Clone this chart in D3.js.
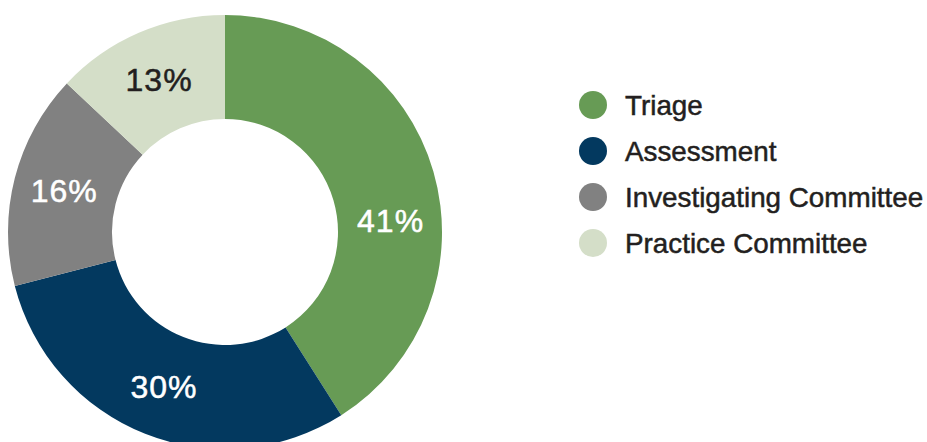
<!DOCTYPE html>
<html>
<head>
<meta charset="utf-8">
<script src="https://cdn.jsdelivr.net/npm/d3@7"></script>
<style>
  body { margin: 0; background: #fff; }
  text { font-family: "Liberation Sans", Arial, sans-serif; }
</style>
</head>
<body>
<svg id="chart" width="927" height="442"></svg>
<script>
// chart data
const categories = ["Triage", "Assessment", "Investigating Committee", "Practice Committee"];
const shares = [41, 30, 16, 13];
const colours = ["#679b55", "#03395f", "#818181", "#d4dec8"];
const labelColours = ["#ffffff", "#ffffff", "#ffffff", "#231f20"];

const svg = d3.select("#chart");
const cx = 225, cy = 232;
const outerR = 217, innerR = 113;

const pie = d3.pie().sort(null).value(d => d.value);
const arcs = pie(categories.map((c, i) => ({ name: c, value: shares[i], i: i })));

const arc = d3.arc().innerRadius(innerR).outerRadius(outerR);
// labels sit in the middle of the ring
const labelArc = d3.arc().innerRadius(166).outerRadius(166);

const g = svg.append("g").attr("transform", "translate(" + cx + "," + cy + ")");

g.selectAll("path")
  .data(arcs)
  .enter()
  .append("path")
  .attr("d", arc)
  .attr("fill", d => colours[d.data.i]);

g.selectAll("text")
  .data(arcs)
  .enter()
  .append("text")
  .attr("transform", function(d) {
    let a = d;
    // first slice label is pushed down to the right-hand side
    if (d.index === 0) a = { startAngle: Math.PI / 2 - 0.07, endAngle: Math.PI / 2 - 0.07 };
    let p = labelArc.centroid(a);
    return "translate(" + p[0] + "," + p[1] + ")";
  })
  .attr("text-anchor", "middle")
  .attr("dy", "0.36em")
  .style("font-size", "32px")
  .style("letter-spacing", "1px")
  .style("fill", d => labelColours[d.data.i])
  .style("stroke", d => labelColours[d.data.i])
  .style("stroke-width", 0.5)
  .text(d => d.data.value + "%");

// legend
const legend = svg.append("g").attr("transform", "translate(593,105)");
const rowY = d3.scaleBand().domain(categories).range([0, 184]);

const rows = legend.selectAll("g")
  .data(categories)
  .enter()
  .append("g")
  .attr("transform", d => "translate(0," + rowY(d) + ")");

rows.append("circle")
  .attr("r", 14)
  .attr("fill", (d, i) => colours[i]);

rows.append("text")
  .attr("x", 32)
  .attr("dy", "0.36em")
  .style("font-size", "27.8px")
  .style("fill", "#231f20")
  .style("stroke", "#231f20")
  .style("stroke-width", 0.5)
  .text(d => d);
</script>
</body>
</html>
